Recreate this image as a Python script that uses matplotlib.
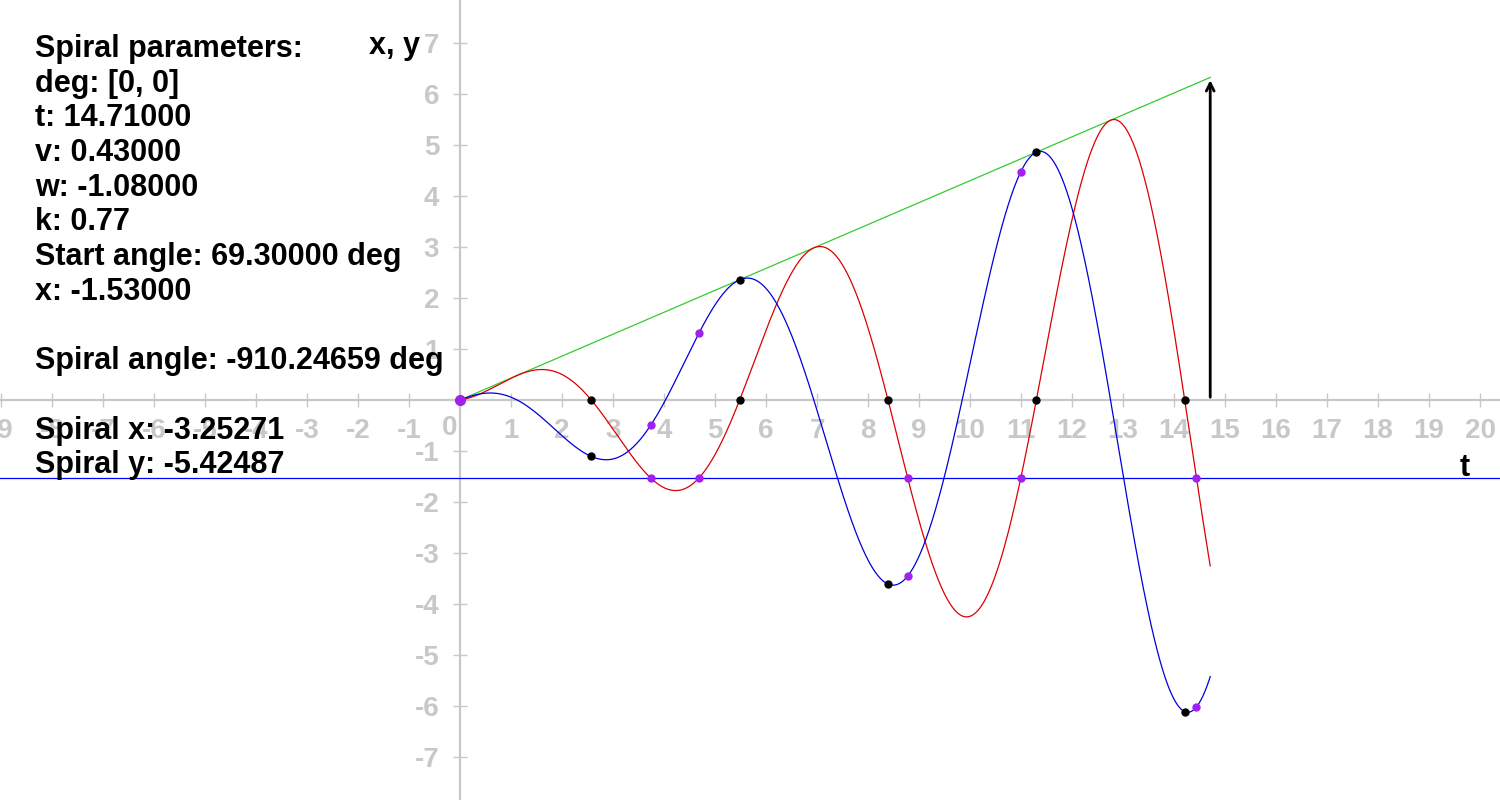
"""Spiral components x(t), y(t) with envelope and marked crossings"""
import numpy as np
import matplotlib.pyplot as plt
from matplotlib.ticker import FuncFormatter

plt.rcParams['font.family'] = ['Liberation Sans', 'DejaVu Sans']
plt.rcParams['axes.unicode_minus'] = False

# parameters shown in the panel
deg = [0, 0]
t_end = 14.71
v = 0.43
w = -1.08
k = 0.77
start_angle = 69.3   # deg
x_level = -1.53

x_ticks = list(range(-9, 21))
y_ticks = list(range(-7, 8))

a0 = np.radians(start_angle)
spiral_angle = np.degrees(w * t_end)

t = np.linspace(0, t_end, 3000)
xs = v * t * np.cos(w * t + a0)
ys = v * t * np.sin(w * t + a0)

# where the spiral crosses x = 0 (cos = 0)
n = np.arange(-30, 30)
t_zero = (np.pi / 2 + n * np.pi - a0) / w
t_zero = np.sort(t_zero[(t_zero > 0) & (t_zero <= t_end)])

# where the spiral crosses x = x_level
d = xs - x_level
idx = np.where(np.sign(d[:-1]) != np.sign(d[1:]))[0]
t_lvl = t[idx] - d[idx] * (t[idx + 1] - t[idx]) / (d[idx + 1] - d[idx])


def sx(tt):
    return v * tt * np.cos(w * tt + a0)


def sy(tt):
    return v * tt * np.sin(w * tt + a0)


fig = plt.figure(figsize=(15, 8), dpi=100)
ax = fig.add_axes([0, 0, 1, 1])
px = 51.0
ox, oy = 460, 400
ax.set_xlim(-ox / px, (1500 - ox) / px)
ax.set_ylim(-(800 - oy) / px, oy / px)

grey = '#c8c8c8'
for s in ['top', 'right']:
    ax.spines[s].set_visible(False)
for s in ['left', 'bottom']:
    ax.spines[s].set_position(('data', 0))
    ax.spines[s].set_color(grey)
    ax.spines[s].set_linewidth(1.6)
    ax.spines[s].set_zorder(0)

ax.set_xticks(x_ticks)
ax.set_yticks(y_ticks)
ax.xaxis.set_major_formatter(FuncFormatter(lambda val, p: '' if val == 0 else '%d' % val))
ax.yaxis.set_major_formatter(FuncFormatter(lambda val, p: '' if val == 0 else '%d' % val))
ax.tick_params(direction='inout', length=10, width=1, color=grey,
               labelcolor=grey, labelsize=20)
ax.tick_params(axis='x', pad=8)
ax.tick_params(axis='y', pad=10)
for lbl in ax.get_xticklabels() + ax.get_yticklabels():
    lbl.set_fontweight('bold')
ax.annotate('0', xy=(0, 0), xytext=(-10, -28), textcoords='offset pixels',
            ha='center', va='center', color=grey, fontsize=20, fontweight='bold')

ax.axhline(x_level, color='#0000ff', lw=0.9)
ax.plot([0, t_end], [0, v * t_end], color='#33cc33', lw=0.9)
ax.plot(t, xs, color='#dd0000', lw=0.9)
ax.plot(t, ys, color='#0000dd', lw=0.9)
ax.annotate('', xy=(t_end, v * t_end), xytext=(t_end, 0),
            arrowprops=dict(arrowstyle='->', color='black', lw=2, mutation_scale=14))

ax.plot(t_zero, np.zeros_like(t_zero), 'o', color='black', ms=5, zorder=5)
ax.plot(t_zero, sy(t_zero), 'o', color='black', ms=5, zorder=5)
ax.plot(t_lvl, np.full_like(t_lvl, x_level), 'o', color='#a020f0', ms=5, zorder=6)
ax.plot(t_lvl, sy(t_lvl), 'o', color='#a020f0', ms=5, zorder=6)
ax.plot([0], [0], 'o', color='#a020f0', ms=7, zorder=6)

ax.annotate('t', xy=(1.0, x_level), xycoords=('axes fraction', 'data'),
            xytext=(-35, 10), textcoords='offset pixels', fontsize=22,
            fontweight='bold', ha='center', va='center')
fig.text(395 / 1500, 1 - 46 / 800, 'x, y', fontsize=22, fontweight='bold',
         ha='center', va='center')

lines = [
    'Spiral parameters:',
    'deg: [%d, %d]' % (deg[0], deg[1]),
    't: %.5f' % t_end,
    'v: %.5f' % v,
    'w: %.5f' % w,
    'k: %.2f' % k,
    'Start angle: %.5f deg' % start_angle,
    'x: %.5f' % x_level,
    '',
    'Spiral angle: %.5f deg' % spiral_angle,
    '',
    'Spiral x: %.5f' % sx(t_end),
    'Spiral y: %.5f' % sy(t_end),
]
for i, s in enumerate(lines):
    fig.text(35 / 1500, 1 - (49 + i * 34.7) / 800, s, fontsize=22,
             fontweight='bold', ha='left', va='center')

fig.savefig('out.png', dpi=100)
